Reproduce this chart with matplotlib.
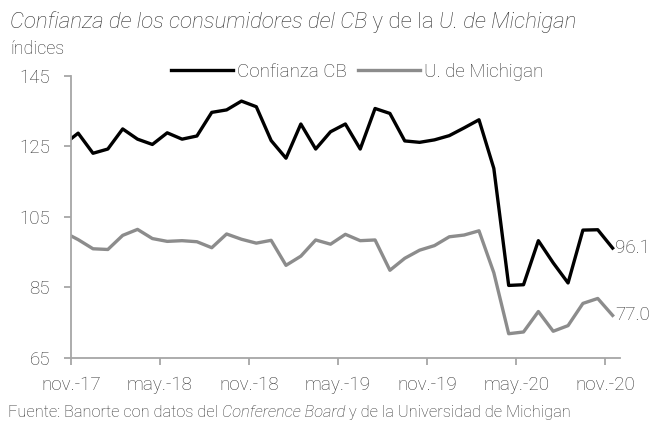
import matplotlib
matplotlib.use("Agg")
import matplotlib.pyplot as plt
import numpy as np

# meses oct-17 .. nov-20 (el primer punto queda recortado por el eje)
meses = ["oct.-17", "nov.-17", "dic.-17", "ene.-18", "feb.-18", "mar.-18", "abr.-18", "may.-18",
         "jun.-18", "jul.-18", "ago.-18", "sep.-18", "oct.-18", "nov.-18", "dic.-18", "ene.-19",
         "feb.-19", "mar.-19", "abr.-19", "may.-19", "jun.-19", "jul.-19", "ago.-19", "sep.-19",
         "oct.-19", "nov.-19", "dic.-19", "ene.-20", "feb.-20", "mar.-20", "abr.-20", "may.-20",
         "jun.-20", "jul.-20", "ago.-20", "sep.-20", "oct.-20", "nov.-20"]

confianza_cb = [125.4, 128.7, 123.0, 124.2, 129.9, 127.0, 125.5, 128.8, 127.0, 127.9, 134.6, 135.3,
                137.8, 136.2, 126.6, 121.6, 131.3, 124.2, 129.1, 131.3, 124.2, 135.7, 134.3, 126.5,
                126.1, 126.8, 128.0, 130.2, 132.5, 118.7, 85.5, 85.7, 98.2, 91.9, 86.2, 101.2,
                101.3, 96.1]

michigan = [100.7, 98.5, 95.9, 95.7, 99.7, 101.4, 98.8, 98.0, 98.2, 97.9, 96.2, 100.1,
            98.6, 97.5, 98.3, 91.2, 93.8, 98.4, 97.2, 100.0, 98.2, 98.4, 89.8, 93.2,
            95.5, 96.8, 99.3, 99.8, 101.0, 89.1, 71.8, 72.3, 78.1, 72.5, 74.1, 80.4,
            81.8, 77.0]

xtick_labels = ["nov.-17", "may.-18", "nov.-18", "may.-19", "nov.-19", "may.-20", "nov.-20"]
yticks = [65, 85, 105, 125, 145]

plt.rcParams["font.family"] = ["Roboto", "DejaVu Sans"]
plt.rcParams["font.weight"] = "light"
txt = "#333333"
axc = "#a6a6a6"
gris = "#8c8c8c"

fig = plt.figure(figsize=(6.61, 4.23), dpi=100)
ax = fig.add_axes([0.107, 0.1544, 0.831, 0.6666])

x = np.arange(len(meses)) - 0.5  # puntos a mitad de mes
ax.plot(x, confianza_cb, color="black", lw=2.4, label="Confianza CB")
ax.plot(x, michigan, color=gris, lw=2.4, label="U. de Michigan")

ax.set_xlim(0, 37)
ax.set_ylim(65, 145)
ax.set_yticks(yticks)
ax.set_xticks(np.arange(0, 37, 6))
ax.set_xticklabels(xtick_labels)

for s in ["top", "right"]:
    ax.spines[s].set_visible(False)
for s in ["left", "bottom"]:
    ax.spines[s].set_color(axc)
    ax.spines[s].set_linewidth(1.3)
ax.tick_params(axis="both", colors=axc, length=5, width=1.3, labelcolor=txt, labelsize=13.5)
ax.tick_params(axis="x", pad=8)
ax.tick_params(axis="y", pad=10)

ax.annotate(f"{confianza_cb[-1]:.1f}", (x[-1], confianza_cb[-1]), xytext=(2, 0),
            textcoords="offset points", va="center", ha="left", fontsize=13.5, color=txt)
ax.annotate(f"{michigan[-1]:.1f}", (x[-1], michigan[-1]), xytext=(2, 0),
            textcoords="offset points", va="center", ha="left", fontsize=13.5, color=txt)

ax.legend(loc="center", bbox_to_anchor=(357 / 661, 1 - 72 / 423), bbox_transform=fig.transFigure,
          ncol=2, frameon=False, fontsize=13.5, handlelength=3.3, handletextpad=0.2,
          columnspacing=0.6, labelcolor=txt)

# titulo con partes en cursiva
fig.canvas.draw()
r = fig.canvas.get_renderer()


def texto_partes(partes, x0, y0, size):
    xx = x0
    for s, estilo in partes:
        t = fig.text(xx, y0, s, fontsize=size, style=estilo, color=txt, va="baseline")
        bb = t.get_window_extent(renderer=r)
        xx += bb.width / fig.bbox.width


texto_partes([("Confianza de los consumidores del CB", "italic"), (" y de la ", "normal"),
              ("U. de Michigan", "italic")], 10 / 661, 1 - 28 / 423, 16)
fig.text(10 / 661, 1 - 54 / 423, "índices", fontsize=13, color=txt, va="baseline")
texto_partes([("Fuente: Banorte con datos del ", "normal"), ("Conference Board", "italic"),
              (" y de la Universidad de Michigan", "normal")], 8 / 661, 1 - 417 / 423, 11.8)

fig.savefig("out.png", dpi=100)
